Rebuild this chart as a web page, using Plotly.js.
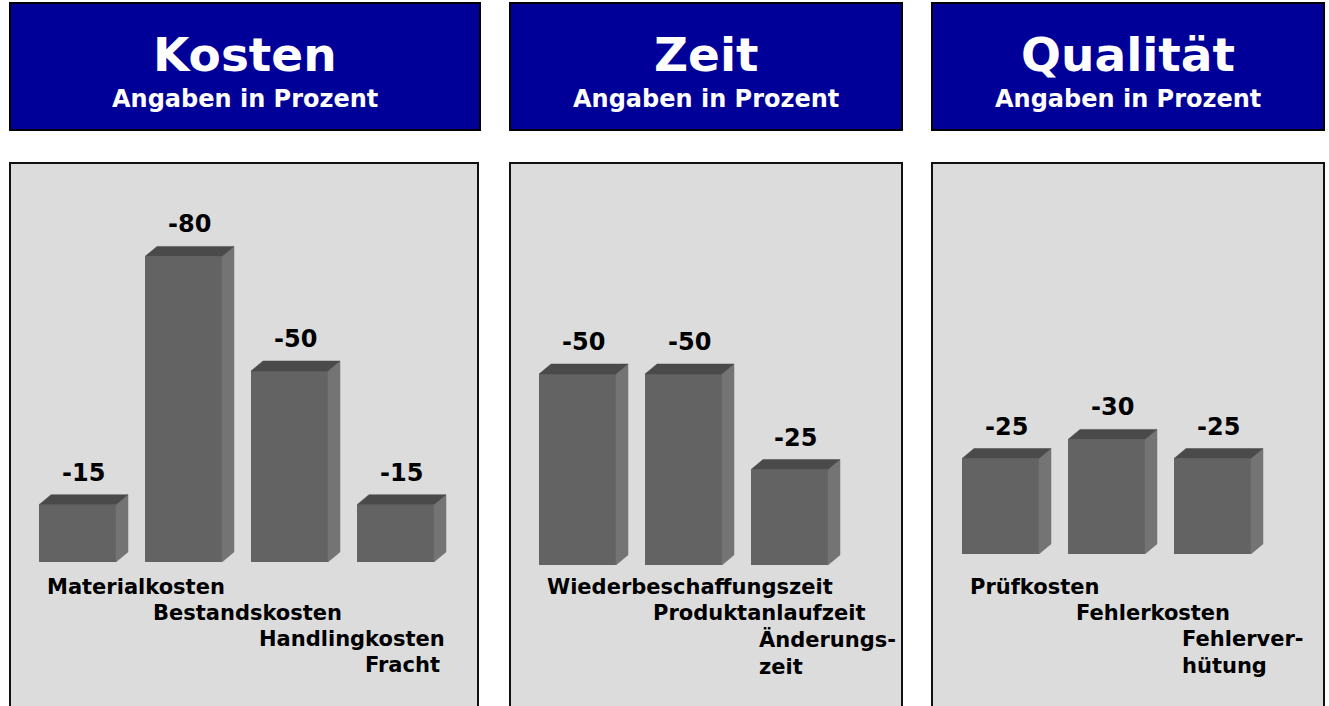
<!DOCTYPE html>
<html>
<head>
<meta charset="utf-8">
<script src="https://cdn.plot.ly/plotly-3.0.1.min.js"></script>
<style>
  html, body { margin: 0; padding: 0; background: #ffffff; }
  #chart { width: 1329px; height: 706px; }
</style>
</head>
<body>
<div id="chart"></div>
<script>
// ---- data ----
const panelTitles = ['Kosten', 'Zeit', 'Qualität'];
const panelSubtitle = 'Angaben in Prozent';

const kostenCategories = ['Materialkosten', 'Bestandskosten', 'Handlingkosten', 'Fracht'];
const kostenValues = [-15, -80, -50, -15];

const zeitCategories = ['Wiederbeschaffungszeit', 'Produktanlaufzeit', 'Änderungs-<br>zeit'];
const zeitValues = [-50, -50, -25];

const qualitaetCategories = ['Prüfkosten', 'Fehlerkosten', 'Fehlerver-<br>hütung'];
const qualitaetValues = [-25, -30, -25];

// ---- layout constants (pixels) ----
const W = 1329, H = 706;
const FONT = 'DejaVu Sans, Verdana, Arial, sans-serif';
const pxPerCat = 106;          // horizontal spacing between bars
const pxPerUnit = 3.82;        // vertical pixels per percent
const barWidthPx = 77;
const depthX = 12, depthY = 10; // 3D depth in pixels

const panels = [
  { cats: kostenCategories, vals: kostenValues, header: [10, 480], box: [10, 478], firstCenter: 77.5, baseline: 562 },
  { cats: zeitCategories, vals: zeitValues, header: [510, 902], box: [510, 902], firstCenter: 577.5, baseline: 565 },
  { cats: qualitaetCategories, vals: qualitaetValues, header: [932, 1324], box: [932, 1324], firstCenter: 1000.5, baseline: 554 }
];
const headerY = [3, 130];
const panelTop = 163;
const labelFirstY = 573;   // top of first category label line
const labelStep = 26;

const px2x = p => p / W;
const py2y = p => 1 - p / H;

const traces = [];
const shapes = [];
const annotations = [];
const layout = {
  width: W, height: H,
  margin: { l: 0, r: 0, t: 0, b: 0 },
  paper_bgcolor: '#ffffff',
  plot_bgcolor: 'rgba(0,0,0,0)',
  showlegend: false,
  hovermode: false,
  shapes: shapes,
  annotations: annotations
};

panels.forEach((p, k) => {
  const sfx = k === 0 ? '' : String(k + 1);
  const xa = 'x' + sfx, ya = 'y' + sfx;
  const boxW = p.box[1] - p.box[0];
  const r0 = -(p.firstCenter - p.box[0]) / pxPerCat;
  const r1 = r0 + boxW / pxPerCat;
  const panelH = H - panelTop;
  const yBottom = (H - p.baseline) / pxPerUnit;
  const yTop = yBottom - panelH / pxPerUnit;

  layout['xaxis' + sfx] = {
    domain: [px2x(p.box[0]), px2x(p.box[1])], range: [r0, r1],
    showgrid: false, zeroline: false, showticklabels: false, showline: false,
    anchor: ya, fixedrange: true
  };
  layout['yaxis' + sfx] = {
    domain: [0, py2y(panelTop)], range: [yBottom, yTop],
    showgrid: false, zeroline: false, showticklabels: false, showline: false,
    anchor: xa, fixedrange: true
  };

  // header box + panel box
  shapes.push({
    type: 'rect', xref: 'paper', yref: 'paper', layer: 'below',
    x0: px2x(p.header[0]), x1: px2x(p.header[1]), y0: py2y(headerY[1]), y1: py2y(headerY[0]),
    fillcolor: '#000099', line: { color: '#000000', width: 2 }
  });
  shapes.push({
    type: 'rect', xref: 'paper', yref: 'paper', layer: 'below',
    x0: px2x(p.box[0]), x1: px2x(p.box[1]), y0: py2y(H + 5), y1: py2y(panelTop),
    fillcolor: '#dcdcdc', line: { color: '#111111', width: 2 }
  });

  const hc = (p.header[0] + p.header[1]) / 2;
  annotations.push({
    xref: 'paper', yref: 'paper', x: px2x(hc), y: py2y(55), xanchor: 'center', yanchor: 'middle',
    text: panelTitles[k], showarrow: false,
    font: { family: FONT, size: 47, color: '#ffffff', weight: 'bold' }
  });
  annotations.push({
    xref: 'paper', yref: 'paper', x: px2x(hc), y: py2y(99), xanchor: 'center', yanchor: 'middle',
    text: panelSubtitle, showarrow: false,
    font: { family: FONT, size: 24, color: '#ffffff', weight: 'bold' }
  });

  const idx = p.vals.map((v, i) => i);
  const bw = barWidthPx / pxPerCat;
  const dx = depthX / pxPerCat;
  const dy = depthY / pxPerUnit;

  // front faces
  traces.push({
    type: 'bar', x: idx, y: p.vals, base: 0, width: bw,
    xaxis: xa, yaxis: ya,
    marker: { color: '#636363', line: { width: 0 } },
    hoverinfo: 'skip'
  });

  // side faces and top faces built from the values
  const sx = [], sy = [], tx = [], ty = [];
  p.vals.forEach((v, i) => {
    const xl = i - bw / 2, xr = i + bw / 2;
    sx.push(xr, xr + dx, xr + dx, xr, xr, null);
    sy.push(v, v - dy, -dy, 0, v, null);
    tx.push(xl, xl + dx, xr + dx, xr, xl, null);
    ty.push(v, v - dy, v - dy, v, v, null);
  });
  traces.push({
    type: 'scatter', mode: 'lines', x: sx, y: sy, fill: 'toself',
    fillcolor: '#747474', line: { color: '#747474', width: 0.5 },
    xaxis: xa, yaxis: ya, hoverinfo: 'skip'
  });
  traces.push({
    type: 'scatter', mode: 'lines', x: tx, y: ty, fill: 'toself',
    fillcolor: '#4a4a4a', line: { color: '#4a4a4a', width: 0.5 },
    xaxis: xa, yaxis: ya, hoverinfo: 'skip'
  });

  // value labels
  p.vals.forEach((v, i) => {
    annotations.push({
      xref: xa, yref: ya, x: i + dx / 2, y: v - dy, xanchor: 'center', yanchor: 'middle',
      yshift: 22, text: String(v), showarrow: false,
      font: { family: FONT, size: 24, color: '#000000', weight: 'bold' }
    });
  });

  // category labels (staggered)
  p.cats.forEach((c, i) => {
    annotations.push({
      xref: xa, yref: 'paper', x: i - bw / 2, xshift: 6,
      y: py2y(labelFirstY + i * labelStep), xanchor: 'left', yanchor: 'top', align: 'left',
      text: c, showarrow: false,
      font: { family: FONT, size: 21, color: '#000000', weight: 'bold' }
    });
  });
});

Plotly.newPlot('chart', traces, layout, { staticPlot: true, displayModeBar: false });
</script>
</body>
</html>
